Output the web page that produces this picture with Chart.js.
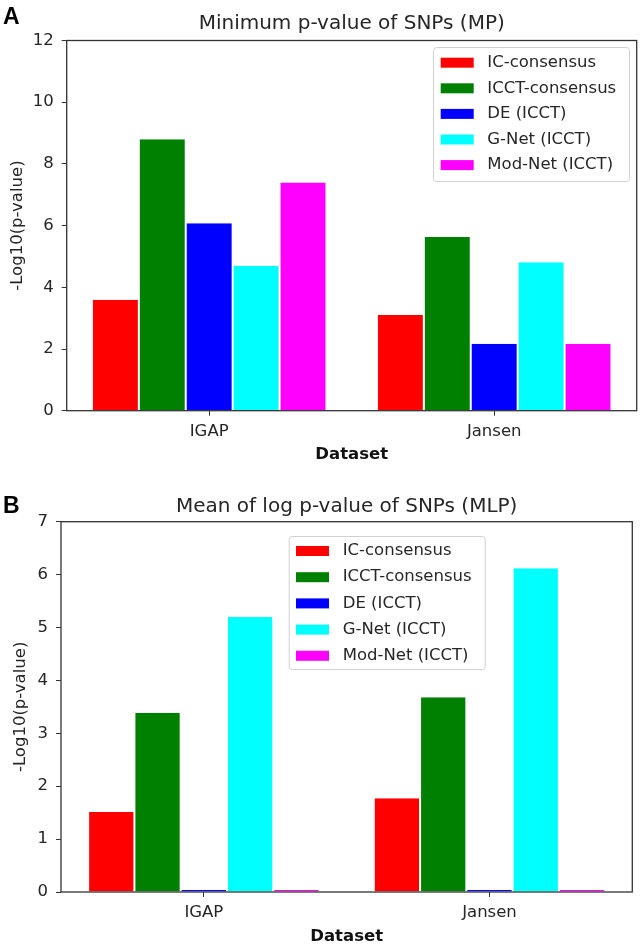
<!DOCTYPE html>
<html>
<head>
<meta charset="utf-8">
<script src="https://cdn.jsdelivr.net/npm/chart.js@4.4.0/dist/chart.umd.min.js"></script>
<style>
  html, body { margin: 0; padding: 0; background: #fff; }
  body { width: 643px; height: 947px; position: relative; overflow: hidden; }
  .panel { position: absolute; left: 0; width: 643px; }
  #p1 { top: 0; height: 470px; }
  #p2 { top: 470px; height: 477px; }
</style>
</head>
<body>
<div class="panel" id="p1"><canvas id="mpChart" width="643" height="470"></canvas></div>
<div class="panel" id="p2"><canvas id="mlpChart" width="643" height="477"></canvas></div>
<script>
const categories = ['IGAP', 'Jansen'];
const seriesNames = ['IC-consensus', 'ICCT-consensus', 'DE (ICCT)', 'G-Net (ICCT)', 'Mod-Net (ICCT)'];
const seriesColors = ['#ff0000', '#008000', '#0000ff', '#00ffff', '#ff00ff'];

// A: minimum p-value of SNPs (MP)
const mpIC = [3.6, 3.1];
const mpICCT = [8.8, 5.63];
const mpDE = [6.08, 2.17];
const mpGNet = [4.7, 4.81];
const mpModNet = [7.4, 2.17];

// B: mean of log p-value of SNPs (MLP)
const mlpIC = [1.51, 1.77];
const mlpICCT = [3.39, 3.68];
const mlpDE = [0.04, 0.04];
const mlpGNet = [5.2, 6.12];
const mlpModNet = [0.04, 0.04];

const TXT = '#262626';
const FONT = '"DejaVu Sans", sans-serif';

// full box around the plot, drawn over the bars like matplotlib spines
const framePlugin = {
    id: 'frame',
    afterDatasetsDraw(chart) {
        const {ctx, chartArea: a} = chart;
        ctx.save();
        ctx.strokeStyle = '#333';
        ctx.lineWidth = 1.3;
        ctx.strokeRect(a.left, a.top, a.right - a.left, a.bottom - a.top);
        ctx.restore();
    }
};

// axes title (centred on the plot, not the canvas), boxed legend, panel letter
const boxLegendPlugin = {
    id: 'boxLegend',
    afterDraw(chart, args, o) {
        const ctx = chart.ctx;
        const a = chart.chartArea;
        ctx.save();
        ctx.font = '20px ' + FONT;
        ctx.fillStyle = TXT;
        ctx.textAlign = 'center';
        ctx.textBaseline = 'middle';
        ctx.fillText(o.title, (a.left + a.right) / 2, o.titleY);

        ctx.textAlign = 'left';
        ctx.fillStyle = 'rgba(255,255,255,0.8)';
        ctx.strokeStyle = '#d0d0d0';
        ctx.lineWidth = 1;
        ctx.beginPath();
        ctx.roundRect(o.left + 0.5, o.top + 0.5, o.width, o.height, 3);
        ctx.fill();
        ctx.stroke();
        ctx.font = '16.5px ' + FONT;
        chart.data.datasets.forEach((ds, i) => {
            const y = o.top + o.firstRow + i * o.rowGap;
            ctx.fillStyle = ds.backgroundColor;
            ctx.fillRect(o.swatchX, y - 5, 33, 10);
            ctx.fillStyle = TXT;
            ctx.fillText(ds.label, o.textX, y);
        });

        ctx.font = 'bold 23px "Liberation Sans", Arial, sans-serif';
        ctx.fillStyle = '#000';
        ctx.textBaseline = 'alphabetic';
        ctx.fillText(o.tag, 3, o.tagY);
        ctx.restore();
    }
};

function makeChart(id, title, series, yMax, yStep, g) {
    const datasets = series.map((vals, i) => ({
        label: seriesNames[i],
        data: vals,
        backgroundColor: seriesColors[i],
        borderColor: '#ffffff',
        borderWidth: {left: 1, right: 1, top: 0, bottom: 0},
        borderSkipped: 'start',
        categoryPercentage: g.catPct,
        barPercentage: 1.0
    }));
    return new Chart(document.getElementById(id), {
        type: 'bar',
        data: { labels: categories, datasets: datasets },
        options: {
            responsive: false,
            animation: false,
            layout: { padding: { left: 0, right: g.padRight, top: g.padTop, bottom: 0 } },
            plugins: {
                legend: { display: false },
                tooltip: { enabled: false },
                title: { display: false },
                boxLegend: Object.assign({ title: title }, g.legend)
            },
            scales: {
                x: {
                    grid: { display: true, drawOnChartArea: false, drawTicks: true, tickLength: 5, color: '#333', offset: false },
                    border: { display: false },
                    ticks: { color: TXT, font: { family: FONT, size: 16.5 }, padding: 6 },
                    title: {
                        display: true, text: 'Dataset', color: '#111',
                        font: { family: FONT, size: 16.5, weight: 'bold' },
                        padding: { top: 0, bottom: g.xTitleBottom }
                    },
                    afterFit: (s) => { s.height = g.xHeight; }
                },
                y: {
                    min: 0, max: yMax,
                    grid: { display: true, drawOnChartArea: false, drawTicks: true, tickLength: 5, color: '#333' },
                    border: { display: false },
                    ticks: { stepSize: yStep, color: TXT, font: { family: FONT, size: 16.5 }, padding: 8 },
                    title: {
                        display: true, text: '-Log10(p-value)', color: TXT,
                        font: { family: FONT, size: 16.5 },
                        padding: { top: g.yTitleTop, bottom: 0 }
                    },
                    afterFit: (s) => { s.width = g.yWidth; }
                }
            }
        },
        plugins: [framePlugin, boxLegendPlugin]
    });
}

makeChart('mpChart', 'Minimum p-value of SNPs (MP)',
    [mpIC, mpICCT, mpDE, mpGNet, mpModNet], 12, 2, {
        catPct: 0.823, padRight: 6.3, padTop: 40.5,
        xHeight: 59.3, xTitleBottom: 5, yWidth: 66.7, yTitleTop: 7.9,
        legend: { titleY: 23.5, left: 433, top: 47, width: 196, height: 134, firstRow: 15.7, rowGap: 25.6,
                  swatchX: 440.7, textX: 487.3, tag: 'A', tagY: 23.5 }
    });

makeChart('mlpChart', 'Mean of log p-value of SNPs (MLP)',
    [mlpIC, mlpICCT, mlpDE, mlpGNet, mlpModNet], 7, 1, {
        catPct: 0.81, padRight: 10.7, padTop: 51.7,
        xHeight: 55, xTitleBottom: 0, yWidth: 61, yTitleTop: 11.2,
        legend: { titleY: 36.5, left: 288.7, top: 66, width: 196, height: 133, firstRow: 15, rowGap: 26.2,
                  swatchX: 296, textX: 342.7, tag: 'B', tagY: 43 }
    });
</script>
</body>
</html>
